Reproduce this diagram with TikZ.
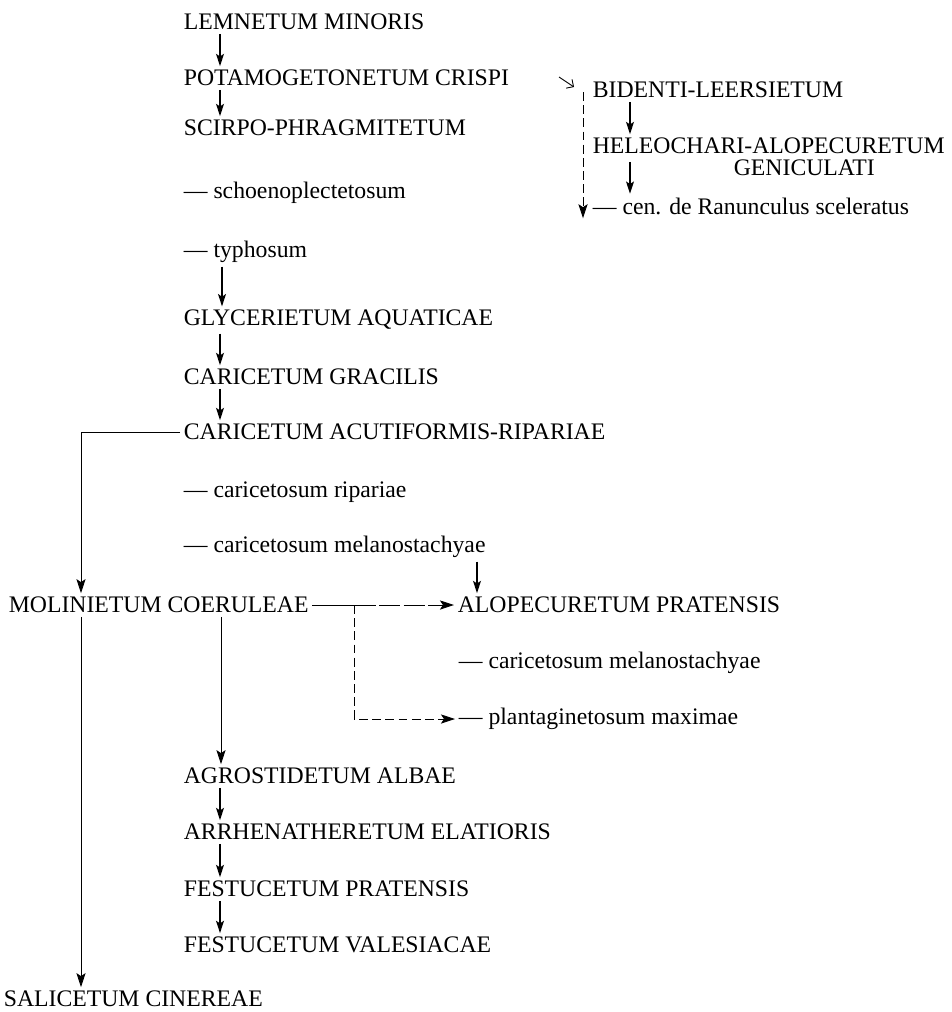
\documentclass[tikz,border=0pt]{standalone}
\usepackage{fontspec}
\setmainfont{Liberation Serif}
\usetikzlibrary{arrows.meta}

\begin{document}
\begin{tikzpicture}[x=0.02cm,y=-0.02cm,
        every node/.style={anchor=west,inner sep=2pt,font=\fontsize{13.5}{16}\selectfont},
        arr/.style={-{Stealth[length=7pt,width=4.5pt,inset=1.5pt]},line width=0.8pt},
        longarr/.style={-{Stealth[length=8pt,width=5.2pt,inset=1.7pt]},line width=0.5pt},
        dashline/.style={dash pattern=on 5pt off 2.5pt,line width=0.5pt}]
        \useasboundingbox (0,0) rectangle (952,1012);

        % main column
        \node (lemn)   at (180,22)  {LEMNETUM MINORIS};
        \node (potam)  at (180,78)  {POTAMOGETONETUM CRISPI};
        \node (scirpo) at (180,128) {SCIRPO-PHRAGMITETUM};
        \node (schoen) at (180,193) {— schoenoplectetosum};
        \node (typho)  at (180,252) {— typhosum};
        \node (glyc)   at (180,320) {GLYCERIETUM AQUATICAE};
        \node (cgrac)  at (180,377) {CARICETUM GRACILIS};
        \node (cacut)  at (180,432) {CARICETUM ACUTIFORMIS-RIPARIAE};
        \node (ripar)  at (180,492) {— caricetosum ripariae};
        \node (melano) at (180,547) {— caricetosum melanostachyae};

        \draw[arr] ([shift={(40,0)}]lemn.south west) -- ([shift={(40,0)}]potam.north west);
        \draw[arr] ([shift={(40,0)}]potam.south west) -- ([shift={(40,0)}]scirpo.north west);
        \draw[arr] ([shift={(42,0)}]typho.south west) -- ([shift={(42,0)}]glyc.north west);
        \draw[arr] ([shift={(40,0)}]glyc.south west) -- ([shift={(40,0)}]cgrac.north west);
        \draw[arr] ([shift={(40,0)}]cgrac.south west) -- ([shift={(40,0)}]cacut.north west);

        % right column
        \node (bid)    at (589,90)  {BIDENTI-LEERSIETUM};
        \node (heleo)  at (589,146) {HELEOCHARI-ALOPECURETUM};
        \node (geni)   at (730,168) {GENICULATI};
        \node (cen)    at (589,206) {— cen. de Ranunculus sceleratus};
        \coordinate (inflow) at (559,77);

        \draw[-{Straight Barb[length=3pt]},line width=0.5pt] (inflow) -- ([shift={(-15,-3)}]bid.west);
        \draw[arr] ([shift={(41,0)}]bid.south west) -- ([shift={(41,0)}]heleo.north west);
        \draw[arr] ([shift={(41,4)}]heleo.south west) -- ([shift={(41,0)}]cen.north west);
        \draw[dashline,-{Stealth[length=8pt,width=5.2pt,inset=1.7pt]}]
                ([shift={(-6,2)}]bid.west) -- ([shift={(-6,0)}]bid.west |- cen.south);

        % middle row
        \node (molin)  at (5,605)   {MOLINIETUM COERULEAE};
        \node (alopec) at (454,605) {ALOPECURETUM PRATENSIS};
        \node (melanb) at (455,663) {— caricetosum melanostachyae};
        \node (plant)  at (455,719) {— plantaginetosum maximae};
        \coordinate (fork) at ([shift={(42,0)}]molin.east);

        \draw[longarr] (cacut.west) -| ([shift={(76,0)}]molin.north west);
        \draw[arr] ([shift={(23,0)}]alopec.north west |- melano.south) -- ([shift={(23,0)}]alopec.north west);
        \draw[line width=0.5pt] (molin.east) -- (fork);
        \draw[longarr,dash pattern=on 12pt off 2pt] (fork) -- (alopec.west);
        \draw[dashline,-{Stealth[length=8pt,width=5.2pt,inset=1.7pt]}] (fork) |- (plant.west);

        % lower column
        \node (agrost) at (180,776) {AGROSTIDETUM ALBAE};
        \node (arrhen) at (180,832) {ARRHENATHERETUM ELATIORIS};
        \node (festp)  at (180,889) {FESTUCETUM PRATENSIS};
        \node (festv)  at (180,945) {FESTUCETUM VALESIACAE};
        \node (salic)  at (0,999)   {SALICETUM CINEREAE};

        \draw[longarr] ([shift={(41,0)}]agrost.north west |- molin.south) -- ([shift={(41,0)}]agrost.north west);
        \draw[longarr] ([shift={(76,0)}]molin.south west) -- ([shift={(76,0)}]molin.south west |- salic.north);
        \draw[arr] ([shift={(40,0)}]agrost.south west) -- ([shift={(40,0)}]arrhen.north west);
        \draw[arr] ([shift={(40,0)}]arrhen.south west) -- ([shift={(40,0)}]festp.north west);
        \draw[arr] ([shift={(40,0)}]festp.south west) -- ([shift={(40,0)}]festv.north west);
\end{tikzpicture}
\end{document}
